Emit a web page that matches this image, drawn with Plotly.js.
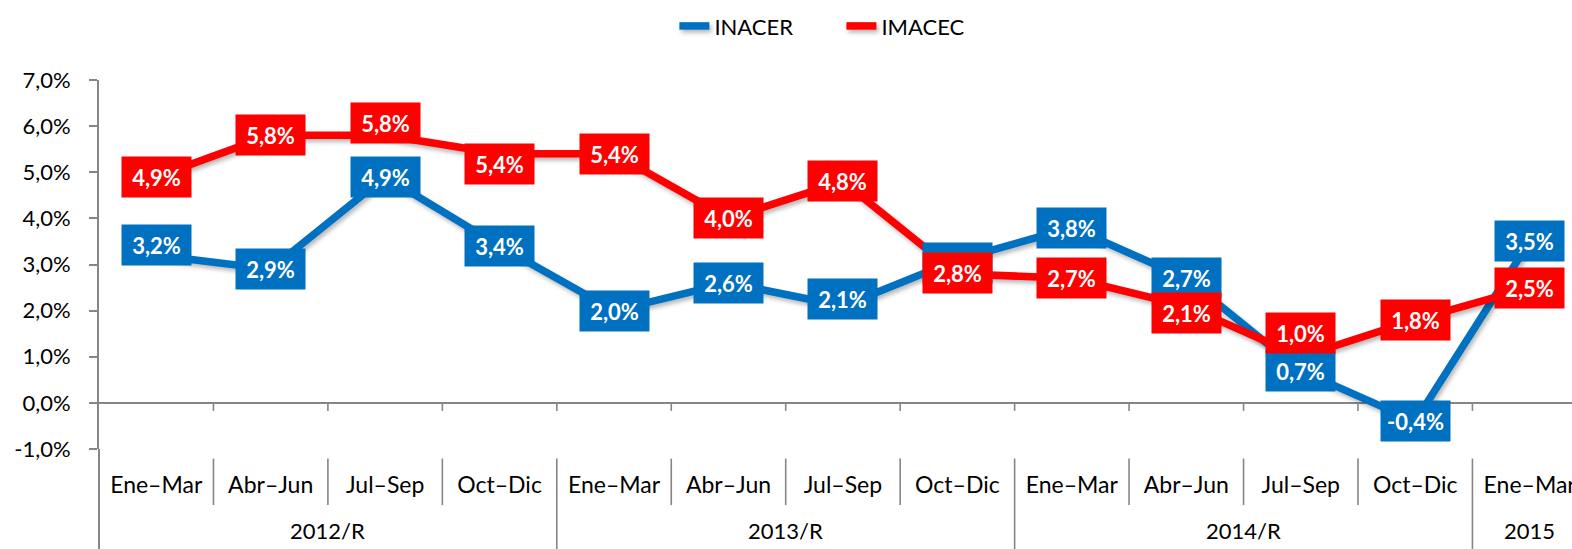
<!DOCTYPE html>
<html>
<head>
<meta charset="utf-8">
<script src="https://cdn.plot.ly/plotly-3.0.1.min.js"></script>
<style>
  html, body { margin: 0; padding: 0; background: #fff; overflow: hidden; }
  #chart { width: 1572px; height: 549px; }
  .js-line { filter: drop-shadow(2px 3px 2px rgba(0,0,0,0.28)); }
</style>
</head>
<body>
<div id="chart"></div>
<script>
// ---- data ----
const years = ['2012/R','2012/R','2012/R','2012/R','2013/R','2013/R','2013/R','2013/R','2014/R','2014/R','2014/R','2014/R','2015'];
const quarters = ['Ene–Mar','Abr–Jun','Jul–Sep','Oct–Dic','Ene–Mar','Abr–Jun','Jul–Sep','Oct–Dic','Ene–Mar','Abr–Jun','Jul–Sep','Oct–Dic','Ene–Mar'];
const inacer = [3.2, 2.9, 4.9, 3.4, 2.0, 2.6, 2.1, 3.1, 3.8, 2.7, 0.7, -0.4, 3.5];
const imacec = [4.9, 5.8, 5.8, 5.4, 5.4, 4.0, 4.8, 2.8, 2.7, 2.1, 1.0, 1.8, 2.5];
const seriesNames = ['INACER', 'IMACEC'];
const yTicks = [-1, 0, 1, 2, 3, 4, 5, 6, 7];

// ---- styling (label placement tweaks, pixels, + = up) ----
const shiftInacer = [10, 0, 0, 0, 0, 0, 7, -3, 0, 0, 0, 0, 0];
const shiftImacec = [0, 0, 12, -10, 0, 0, 0, 1, 0, -7, 24, 0, 0];
const BLUE = '#0070C0', RED = '#FF0000', AXIS = '#868686';
const FONT = 'Lato, "Open Sans", sans-serif';

const fmt = v => v.toFixed(1).replace('.', ',') + '%';
const yTickText = yTicks.map(fmt);
// unique category keys (year + quarter); the axis shows only the quarter
const cats = quarters.map((q, i) => years[i] + ' ' + q);

const traces = [
  { type: 'scatter', mode: 'lines', name: seriesNames[0], x: cats, y: inacer,
    line: { color: BLUE, width: 7.5 }, hoverinfo: 'skip' },
  { type: 'scatter', mode: 'lines', name: seriesNames[1], x: cats, y: imacec,
    line: { color: RED, width: 7.5 }, hoverinfo: 'skip' }
];

const annotations = [];
function addLabels(vals, shifts, color) {
  vals.forEach((v, i) => {
    annotations.push({
      x: cats[i], y: v, xref: 'x', yref: 'y', text: fmt(v), showarrow: false,
      yshift: shifts[i], bgcolor: color, borderpad: 0, width: 69, height: 40,
      font: { family: FONT, size: 22, color: '#fff', weight: 'bold' }
    });
  });
}
addLabels(inacer, shiftInacer, BLUE);
addLabels(imacec, shiftImacec, RED);

// year group labels, centred under their quarters
const groupNames = [...new Set(years)];
groupNames.forEach(g => {
  const idx = years.map((y, i) => y === g ? i : -1).filter(i => i >= 0);
  const centre = (idx[0] + idx[idx.length - 1]) / 2;
  annotations.push({
    x: centre, y: -0.22, xref: 'x', yref: 'paper', yanchor: 'middle', text: g, showarrow: false,
    font: { family: FONT, size: 22, color: '#000' }
  });
});

// separators below the axis + small ticks on the zero line
const shapes = [];
const sepTop = -0.026, catBottom = -0.152, grpBottom = -0.275;
for (let i = 0; i < quarters.length; i++) {
  const isGroup = i === 0 || years[i] !== years[i - 1];
  if (i === 0) {
    shapes.push({ type: 'line', xref: 'paper', yref: 'paper', x0: 0, x1: 0, y0: 0, y1: grpBottom,
      line: { color: AXIS, width: 2 } });
    continue;
  }
  shapes.push({ type: 'line', xref: 'x', yref: 'paper', x0: i - 0.5, x1: i - 0.5,
    y0: sepTop, y1: isGroup ? grpBottom : catBottom, line: { color: AXIS, width: 1.6 } });
  shapes.push({ type: 'line', xref: 'x', yref: 'y', x0: i - 0.5, x1: i - 0.5,
    ysizemode: 'pixel', yanchor: 0, y0: 0, y1: -8, line: { color: AXIS, width: 1.6 } });
}

const layout = {
  width: 1572, height: 549,
  margin: { l: 99, r: 0, t: 80, b: 100 },
  paper_bgcolor: '#fff', plot_bgcolor: '#fff',
  separators: ',.',
  font: { family: FONT, size: 22, color: '#000' },
  showlegend: true,
  legend: { orientation: 'h', x: 0.504, xanchor: 'center', y: 1.146, yanchor: 'middle',
    font: { family: FONT, size: 22, color: '#000' }, entrywidth: 122, bgcolor: 'rgba(0,0,0,0)' },
  hovermode: false,
  xaxis: {
    type: 'category', range: [-0.5, 12.37],
    tickvals: cats, ticktext: quarters,
    showgrid: false, zeroline: false, showline: false, ticks: '',
    ticklabelstandoff: 20,
    tickfont: { family: FONT, size: 23, color: '#000' }
  },
  yaxis: {
    range: [-1, 7], tickvals: yTicks, ticktext: yTickText,
    showgrid: false, showline: true, linecolor: AXIS, linewidth: 2,
    zeroline: true, zerolinecolor: AXIS, zerolinewidth: 2,
    ticks: 'outside', ticklen: 8, tickcolor: AXIS, tickwidth: 2, ticklabelstandoff: 14,
    tickfont: { family: FONT, size: 22, color: '#000' }
  },
  shapes: shapes,
  annotations: annotations
};

Plotly.newPlot('chart', traces, layout, { displayModeBar: false, staticPlot: true });
</script>
</body>
</html>
